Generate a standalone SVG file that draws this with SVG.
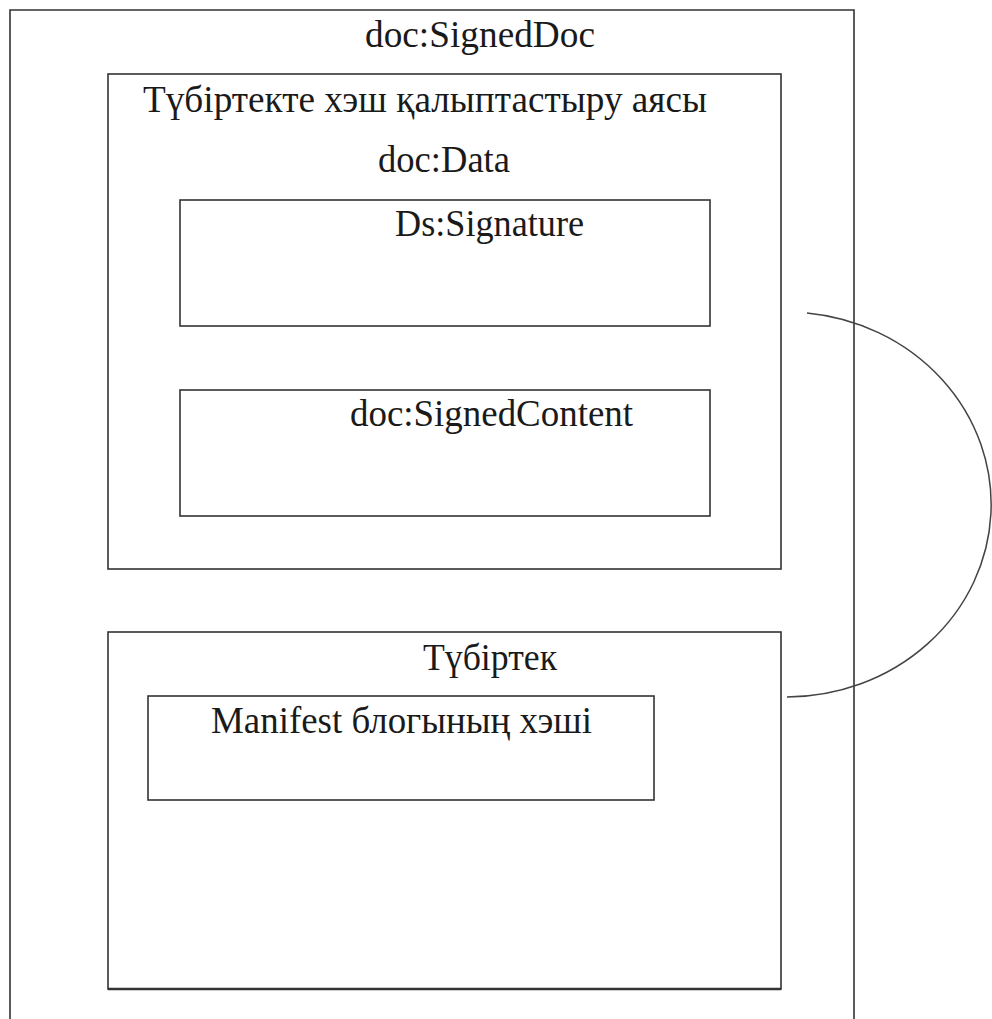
<svg xmlns="http://www.w3.org/2000/svg" width="992" height="1019" viewBox="0 0 992 1019">
<style>
.box{fill:none;stroke:#333;stroke-width:1.6}
.lbl{font-family:"Liberation Serif","Times New Roman",serif;font-size:37px;fill:#1a1a1a}
.conn{fill:none;stroke:#444;stroke-width:1.5}
</style>
<rect width="992" height="1019" fill="#fff"/>
<g id="signed-doc">
<path class="box" d="M10,1019 V10 H854 V1019"/>
<text class="lbl" x="365" y="47" textLength="230" lengthAdjust="spacingAndGlyphs">doc:SignedDoc</text>
</g>
<g id="hash-scope">
<rect class="box" x="108" y="74" width="673" height="495"/>
<text class="lbl" x="143" y="112" textLength="564" lengthAdjust="spacingAndGlyphs">Түбіртекте хэш қалыптастыру аясы</text>
<text class="lbl" x="378" y="172" textLength="132" lengthAdjust="spacingAndGlyphs">doc:Data</text>
</g>
<g id="ds-signature">
<rect class="box" x="180" y="200" width="530" height="126"/>
<text class="lbl" x="395" y="236" textLength="189" lengthAdjust="spacingAndGlyphs">Ds:Signature</text>
</g>
<g id="signed-content">
<rect class="box" x="180" y="390" width="530" height="126"/>
<text class="lbl" x="350" y="426" textLength="283" lengthAdjust="spacingAndGlyphs">doc:SignedContent</text>
</g>
<g id="receipt">
<rect class="box" x="108" y="632" width="673" height="357"/>
<line x1="108" y1="989" x2="781" y2="989" stroke="#333" stroke-width="2.6"/>
<text class="lbl" x="423" y="670" textLength="134" lengthAdjust="spacingAndGlyphs">Түбіртек</text>
</g>
<g id="manifest-hash">
<rect class="box" x="148" y="696" width="506" height="104"/>
<text class="lbl" x="211" y="733" textLength="381" lengthAdjust="spacingAndGlyphs">Manifest блогының хэші</text>
</g>
<g id="connectors">
<path class="conn" d="M807,313 A205 192.5 0 0 1 787,697"/>
</g>
</svg>
